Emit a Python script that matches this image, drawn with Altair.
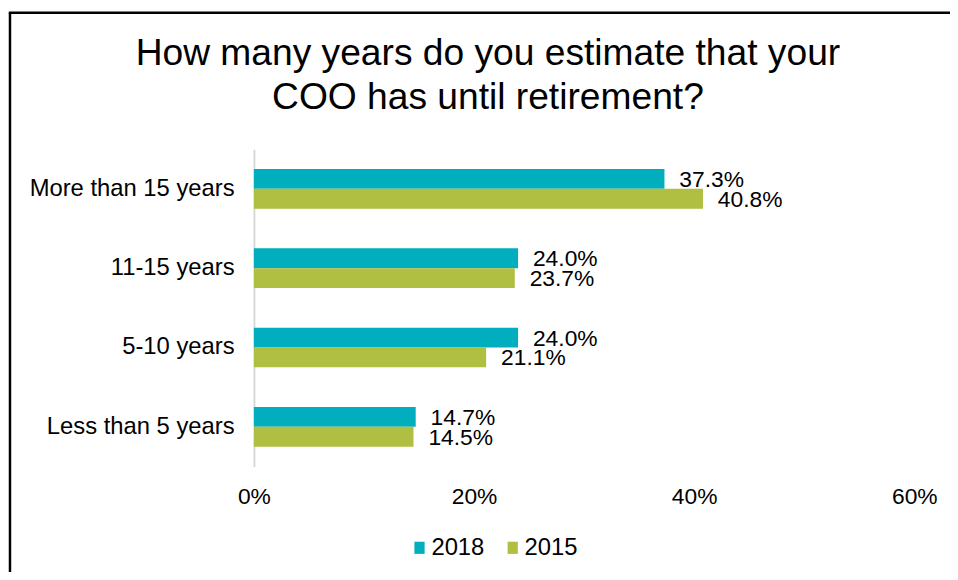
import altair as alt
import pandas as pd

categories = ["More than 15 years", "11-15 years", "5-10 years", "Less than 5 years"]
years = ["2018", "2015"]
values_2018 = [37.3, 24.0, 24.0, 14.7]
values_2015 = [40.8, 23.7, 21.1, 14.5]
x_ticks = [0, 20, 40, 60]
colors = ["#00AEBD", "#B0BE41"]
title_lines = ["How many years do you estimate that your", "COO has until retirement?"]

rows = []
for c, a, b in zip(categories, values_2018, values_2015):
    rows.append({"cat": c, "year": "2018", "value": a})
    rows.append({"cat": c, "year": "2015", "value": b})
df = pd.DataFrame(rows)

FONT = "Liberation Sans"

y_enc = alt.Y("cat:N", sort=categories,
              scale=alt.Scale(paddingInner=0.5, paddingOuter=0.25),
              axis=alt.Axis(title=None, labelFontSize=24, labelColor="black", labelFont=FONT,
                            labelPadding=20, labelLimit=400, ticks=False,
                            domainColor="#d9d9d9", domainWidth=2, grid=False))
x_enc = alt.X("value:Q", scale=alt.Scale(domain=[0, 60], nice=False),
              axis=alt.Axis(title=None, values=x_ticks, labelExpr="datum.value + '%'",
                            labelFontSize=23, labelColor="black", labelFont=FONT,
                            labelFlush=False, labelPadding=19, ticks=False, domain=False,
                            grid=False))
yoff = alt.YOffset("year:N", sort=years, scale=alt.Scale(paddingInner=0, paddingOuter=0))

base = alt.Chart(df)

bars = base.mark_bar().encode(
    y=y_enc, x=x_enc, yOffset=yoff,
    color=alt.Color("year:N", sort=years, scale=alt.Scale(domain=years, range=colors),
                    legend=alt.Legend(title=None, orient="none", direction="horizontal",
                                      legendX=155, legendY=390,
                                      labelFontSize=24, labelFont=FONT, labelColor="black",
                                      symbolType="M-1.68,-2L1.68,-2L1.68,2L-1.68,2Z",
                                      symbolSize=37.5, symbolStrokeWidth=0, labelOffset=0,
                                      columnPadding=16)),
)

labels = base.transform_calculate(
    lbl="format(datum.value, '.1f') + '%'"
).mark_text(align="left", baseline="middle", dx=15, dy=1, fontSize=23,
            font=FONT, color="black").encode(
    y=alt.Y("cat:N", sort=categories), x="value:Q", yOffset=yoff,
    text="lbl:N",
)

one = alt.Chart(pd.DataFrame({"t": ["\n".join(title_lines)]}))
title = one.mark_text(align="center", baseline="alphabetic", fontSize=37.5, font=FONT,
                      color="black", lineBreak="\n", lineHeight=44).encode(
    x=alt.value(236), y=alt.value(-85), text="t:N")
left_border = one.mark_rule(color="black", strokeWidth=2.5).encode(
    x=alt.value(-246), y=alt.value(-137.5), y2=alt.value(440))
top_border = one.mark_rule(color="black", strokeWidth=2.5).encode(
    x=alt.value(-247.2), x2=alt.value(710), y=alt.value(-137.5))

chart = alt.layer(bars, labels, title, left_border, top_border).properties(
    width=666, height=320,
    autosize=alt.AutoSizeParams(type="none"),
    padding={"left": 248, "top": 140, "right": 36, "bottom": 104},
).configure_view(stroke=None)

chart.save("out.html", embed_options={"renderer": "svg", "actions": False})
